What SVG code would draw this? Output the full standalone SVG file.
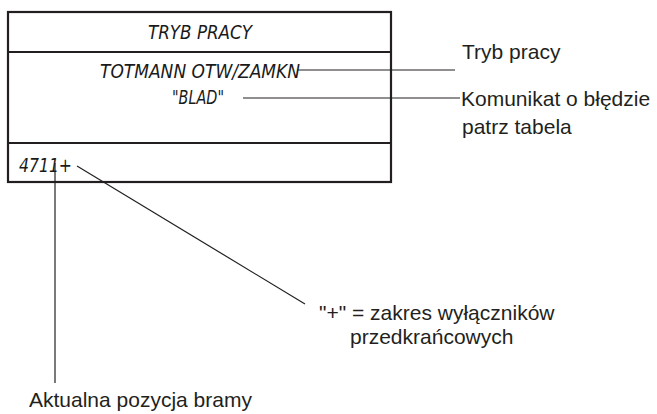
<svg xmlns="http://www.w3.org/2000/svg" width="657" height="414" viewBox="0 0 657 414">
<style>
.lcd{font-family:"Liberation Sans Narrow","DejaVu Sans Condensed",sans-serif;font-style:italic;font-size:19px;fill:#1a1a1a}
.lbl{font-family:"Liberation Sans",Arial,sans-serif;font-size:21px;fill:#231f20}
.frame{fill:none;stroke:#231f20;stroke-width:2.2}
.lead{fill:none;stroke:#231f20;stroke-width:1.2}
</style>
<rect width="657" height="414" fill="#fff"/>
<g id="display">
<rect class="frame" x="8" y="12" width="383" height="170"/>
<line class="frame" x1="8" y1="52" x2="391" y2="52"/>
<line class="frame" x1="8" y1="143" x2="391" y2="143"/>
<text class="lcd" x="200" y="39" text-anchor="middle" textLength="104" lengthAdjust="spacingAndGlyphs">TRYB PRACY</text>
<text class="lcd" x="100" y="78" textLength="200" lengthAdjust="spacingAndGlyphs">TOTMANN OTW/ZAMKN</text>
<text class="lcd" x="172" y="104" textLength="52" lengthAdjust="spacingAndGlyphs">"BLAD"</text>
<text class="lcd" x="19" y="172" textLength="53" lengthAdjust="spacingAndGlyphs">4711+</text>
</g>
<g id="connectors">
<line class="lead" x1="297" y1="70" x2="455" y2="70"/>
<line class="lead" x1="243" y1="98" x2="460" y2="98"/>
<line class="lead" x1="55" y1="163" x2="55" y2="383"/>
<line class="lead" x1="77" y1="166" x2="305" y2="304"/>
</g>
<g id="label-tryb"><text class="lbl" x="462" y="59">Tryb pracy</text></g>
<g id="label-komunikat"><text class="lbl" x="461" y="106">Komunikat o błędzie</text><text class="lbl" x="462" y="134">patrz tabela</text></g>
<g id="label-plus"><text class="lbl" x="319" y="320">"+" = zakres wyłączników</text><text class="lbl" x="350" y="344">przedkrańcowych</text></g>
<g id="label-pozycja"><text class="lbl" x="29" y="407">Aktualna pozycja bramy</text></g>
</svg>
